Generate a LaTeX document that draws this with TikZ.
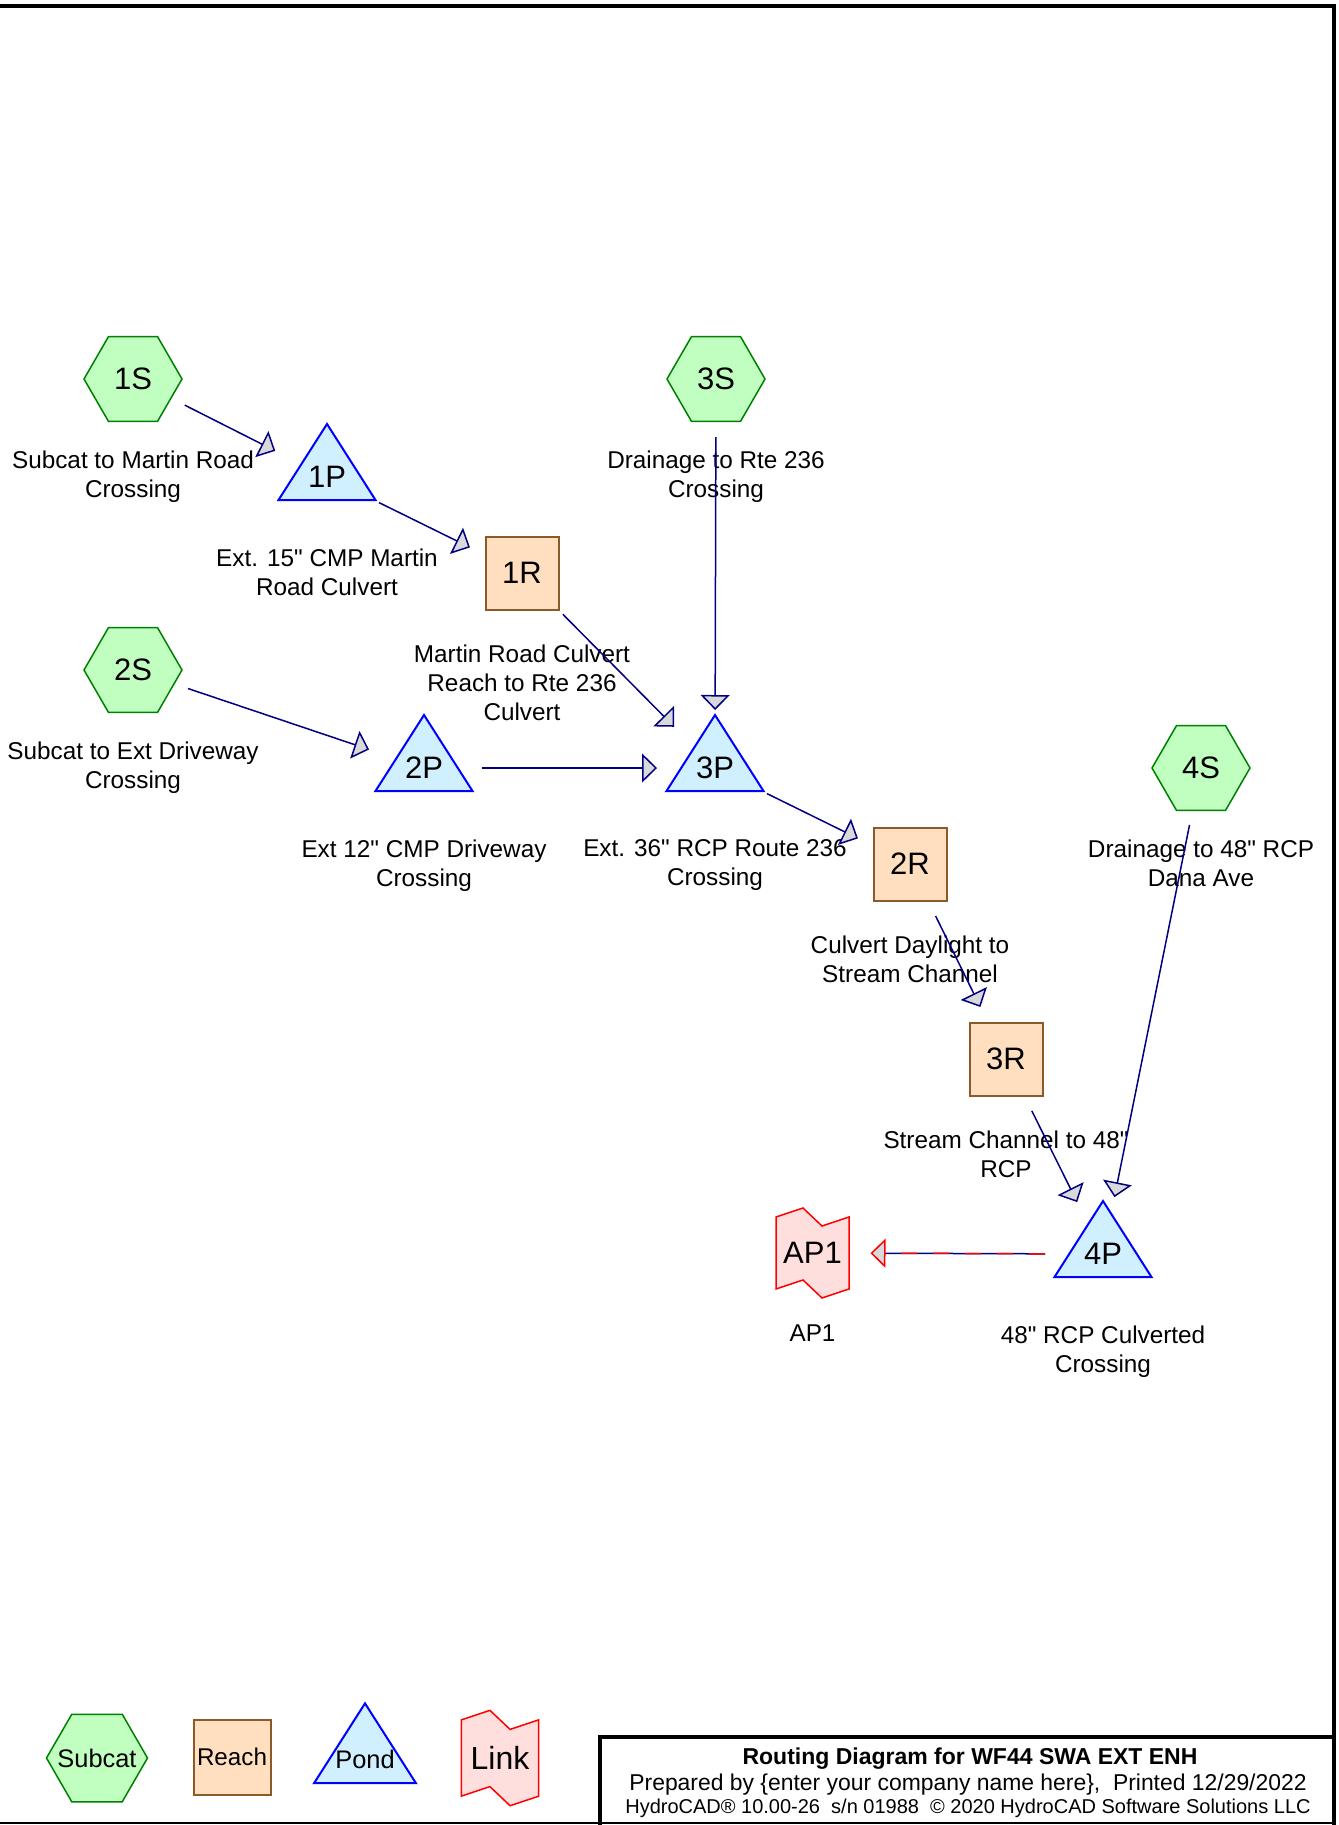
\documentclass[tikz,border=0pt]{standalone}
\usepackage{fontspec}
\setmainfont[Ligatures=TeXOff]{Liberation Sans}
\usetikzlibrary{shapes.geometric,arrows.meta,positioning}

\definecolor{subfill}{HTML}{C0FFC0}
\definecolor{subline}{HTML}{008000}
\definecolor{reachfill}{HTML}{FFDFBF}
\definecolor{reachline}{HTML}{8B5A2B}
\definecolor{pondfill}{HTML}{D0F0FF}
\definecolor{pondline}{HTML}{0000FF}
\definecolor{linkfill}{HTML}{FFDEDE}
\definecolor{linkline}{HTML}{FF0000}
\definecolor{flowline}{HTML}{000080}
\definecolor{tipfill}{HTML}{D9D9D9}

\tikzset{
  idfont/.style={font=\fontsize{15.5}{18}\selectfont},
  subcat/.style={regular polygon, regular polygon sides=6, minimum size=49pt, inner sep=0pt,
    draw=subline, fill=subfill, line width=0.75pt, idfont},
  reach/.style={rectangle, minimum width=36.5pt, minimum height=36.5pt, inner sep=1pt,
    draw=reachline, fill=reachfill, line width=1pt, idfont},
  idtext/.style={inner sep=0pt, idfont},
  desc/.style={inner sep=0pt, align=center, font=\fontsize{12.15}{14.5}\selectfont},
  flow/.style={flowline, line width=0.75pt, shorten <=29pt, shorten >=29pt,
    -{Triangle[length=7.5pt,width=14.5pt,fill=tipfill]}},
  infotext/.style={inner sep=0pt, anchor=base}
}

% pond triangle and link flag, drawn round a centre
\newcommand{\pondshape}[2][1]{\draw[draw=pondline, fill=pondfill, line width=1pt, shift={#2}, scale=#1]
  (-48.5,23) -- (48.5,23) -- (0,-53) -- cycle;}
\newcommand{\linkshape}[2][1]{\draw[draw=linkline, fill=linkfill, line width=0.75pt, shift={#2}, scale=#1]
  (-36.5,-36) -- (-9.5,-45) -- (9.5,-27) -- (36.5,-36) -- (36.5,36) -- (9.5,45) -- (-9.5,27) -- (-36.5,36) -- cycle;}

\begin{document}
\begin{tikzpicture}[x=0.5pt, y=-0.5pt]
\useasboundingbox (0,0) rectangle (1338,1825);
% frame
\draw[line width=2pt] (0,6) -- (1334,6) -- (1334,1825);
\draw[line width=1pt] (0,1823) -- (1334,1823);

% subcatchments
\node[subcat] (s1) at (133,379) {1S};
\node[subcat] (s2) at (133,670) {2S};
\node[subcat] (s3) at (716,379) {3S};
\node[subcat] (s4) at (1201,768) {4S};
% ponds
\pondshape{(327,477)}
\node[idtext] (p1) at (327,477) {1P};
\pondshape{(424,768)}
\node[idtext] (p2) at (424,768) {2P};
\pondshape{(715,768)}
\node[idtext] (p3) at (715,768) {3P};
\pondshape{(1103,1254)}
\node[idtext] (p4) at (1103,1254) {4P};
% reaches
\node[reach] (r1) at (522,573) {1R};
\node[reach] (r2) at (910,864) {2R};
\node[reach] (r3) at (1006,1059) {3R};
% link
\linkshape{(812.5,1253)}
\node[idtext] (ap1) at (812.5,1253) {AP1};

% descriptions
\node[desc, below=35.5pt of s1.center] (s1lbl) {Subcat to Martin Road\\Crossing};
\node[desc, below=35.5pt of s2.center] (s2lbl) {Subcat to Ext Driveway\\Crossing};
\node[desc, below=35.5pt of s3.center] (s3lbl) {Drainage to Rte 236\\Crossing};
\node[desc, below=35.5pt of s4.center] (s4lbl) {Drainage to 48" RCP\\Dana Ave};
\node[desc, below=35.5pt of p1.center] (p1lbl) {Ext. 15" CMP Martin\\Road Culvert};
\node[desc, below=35.5pt of p2.center] (p2lbl) {Ext 12" CMP Driveway\\Crossing};
\node[desc, below=35.5pt of p3.center] (p3lbl) {Ext. 36" RCP Route 236\\Crossing};
\node[desc, below=35.5pt of p4.center] (p4lbl) {48" RCP Culverted\\Crossing};
\node[desc, below=35.5pt of r1.center] (r1lbl) {Martin Road Culvert\\Reach to Rte 236\\Culvert};
\node[desc, below=35.5pt of r2.center] (r2lbl) {Culvert Daylight to\\Stream Channel};
\node[desc, below=35.5pt of r3.center] (r3lbl) {Stream Channel to 48"\\RCP};
\node[desc, below=35.5pt of ap1.center] (ap1lbl) {AP1};

% routing
\draw[flow] (s1.center) -- (p1.center);
\draw[flow] (p1.center) -- (r1.center);
\draw[flow] (r1.center) -- (p3.center);
\draw[flow] (s3.center) -- (p3.center);
\draw[flow] (s2.center) -- (p2.center);
\draw[flow] (p2.center) -- (p3.center);
\draw[flow] (p3.center) -- (r2.center);
\draw[flow] (r2.center) -- (r3.center);
\draw[flow] (r3.center) -- (p4.center);
\draw[flow] (s4.center) -- (p4.center);
\draw[flowline, line width=0.75pt, shorten <=29pt, shorten >=36pt] (p4.center) -- (ap1.center);
\draw[flow, linkline, dash pattern=on 8pt off 8pt] (p4.center) -- (ap1.center);

% legend
\node[subcat, minimum size=50.5pt, label={[font=\fontsize{12.7}{15}\selectfont]center:Subcat}] (legsub) at (97,1758) {};
\node[reach, minimum width=38.5pt, minimum height=37.5pt, font=\fontsize{12.1}{15}\selectfont] (legreach) at (232,1757) {Reach};
\pondshape[1.05]{(365,1759)}
\node[idtext, font=\fontsize{12.7}{15}\selectfont] (legpond) at (365,1759) {Pond};
\linkshape[1.06]{(500,1758)}
\node[idtext, font=\fontsize{16}{19}\selectfont] (leglink) at (500,1758) {Link};

% title block
\draw[line width=2pt] (600,1825) -- (600,1737) -- (1334,1737);
\node[infotext, font=\bfseries\fontsize{11.5}{13}\selectfont] (title) at (970,1764) {Routing Diagram for WF44 SWA EXT ENH};
\node[infotext, font=\fontsize{11.45}{13}\selectfont] (prep) at (968,1790.5) {Prepared by \{enter your company name here\},\ \ Printed 12/29/2022};
\node[infotext, font=\fontsize{10}{12}\selectfont] (ver) at (968,1813.5) {HydroCAD® 10.00-26\ \ s/n 01988\ \ © 2020 HydroCAD Software Solutions LLC};
\end{tikzpicture}
\end{document}
